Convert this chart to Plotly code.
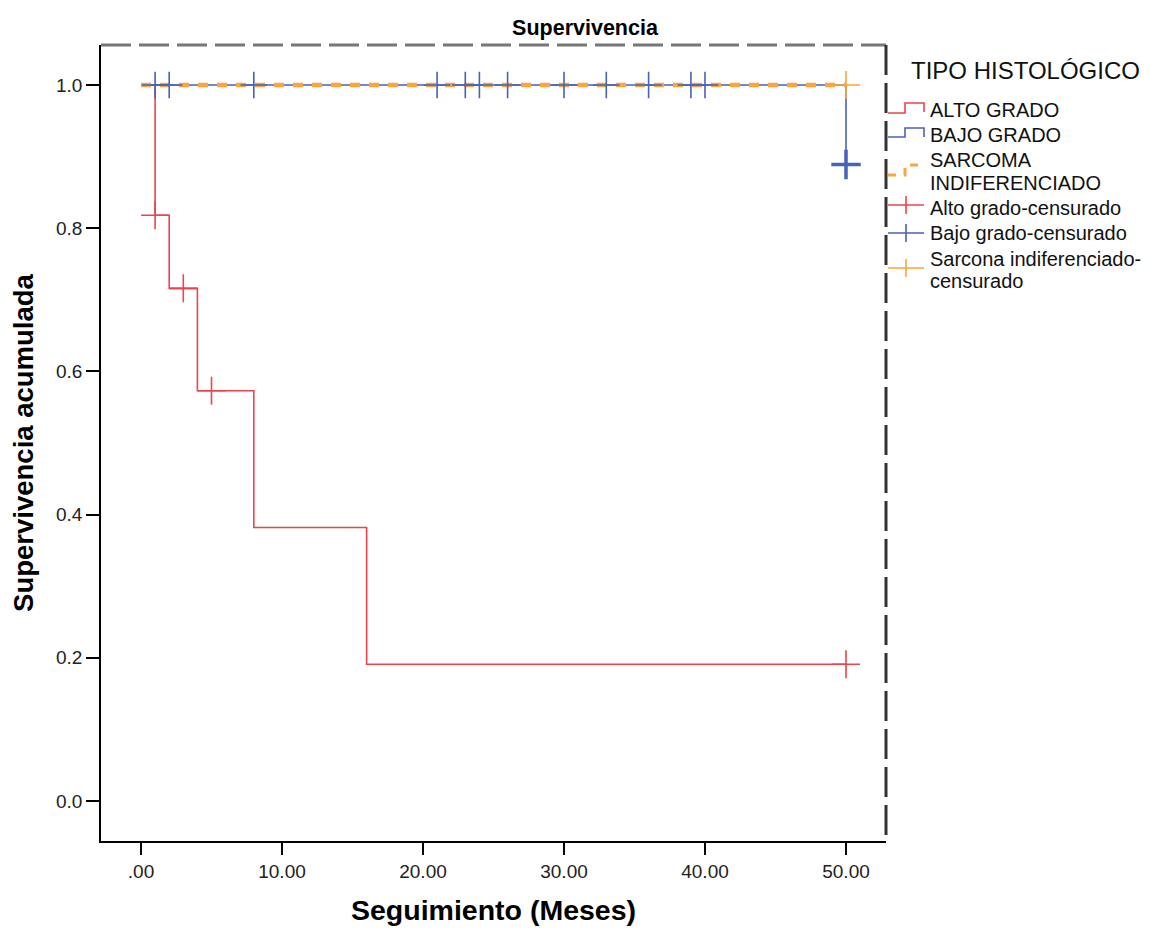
import plotly.graph_objects as go

# Kaplan-Meier step curves (time in months, cumulative survival)
alto_t = [0, 1, 2, 4, 8, 16, 50]
alto_s = [1.0, 0.818, 0.716, 0.573, 0.382, 0.191, 0.191]
alto_cens_t = [1, 3, 5, 50]
alto_cens_s = [0.818, 0.716, 0.573, 0.191]

bajo_t = [0, 50, 50]
bajo_s = [1.0, 1.0, 0.889]
bajo_cens_t = [1, 2, 8, 21, 23, 24, 26, 30, 33, 36, 39, 40]
bajo_cens_s = [1.0] * 12
bajo_last_t = [50]
bajo_last_s = [0.889]

sarc_t = [0, 50]
sarc_s = [1.0, 1.0]
sarc_cens_t = [50]
sarc_cens_s = [1.0]

x_ticks = [0, 10, 20, 30, 40, 50]
x_ticklabels = [".00", "10.00", "20.00", "30.00", "40.00", "50.00"]
y_ticks = [0, 0.2, 0.4, 0.6, 0.8, 1.0]
y_ticklabels = ["0.0", "0.2", "0.4", "0.6", "0.8", "1.0"]

legend_title = "TIPO HISTOLÓGICO"
legend_labels = ["ALTO GRADO", "BAJO GRADO", "SARCOMA<br>INDIFERENCIADO",
                 "Alto grado-censurado", "Bajo grado-censurado",
                 "Sarcona indiferenciado-<br>censurado"]

RED = "#f0424d"
BLUE = "#4861bb"
ORANGE = "#fba53a"
FONT = "Liberation Sans, Arial, sans-serif"

# page geometry (browser body has an 8px margin)
OFF = 8
PL, PR, PT, PB = 101, 886, 45, 841
W, H = 1157 - OFF, 934 - OFF


def px(xp):
    return (xp - PL) / (PR - PL)


def py(yp):
    return (PB - yp) / (PB - PT)


fig = go.Figure()
fig.add_trace(go.Scatter(x=alto_t, y=alto_s, mode="lines", line=dict(color=RED, width=1.6, shape="hv"),
                         name=legend_labels[0], showlegend=False))
fig.add_trace(go.Scatter(x=bajo_t, y=bajo_s, mode="lines", line=dict(color=BLUE, width=1.6, shape="hv"),
                         name=legend_labels[1], showlegend=False))
fig.add_trace(go.Scatter(x=sarc_t, y=sarc_s, mode="lines",
                         line=dict(color=ORANGE, width=4.5, dash="10px,9px"),
                         name=legend_labels[2], showlegend=False))
fig.add_trace(go.Scatter(x=alto_cens_t, y=alto_cens_s, mode="markers",
                         marker=dict(symbol="cross-thin", size=20, line=dict(color=RED, width=1.6)),
                         name=legend_labels[3], showlegend=False))
fig.add_trace(go.Scatter(x=bajo_cens_t, y=bajo_cens_s, mode="markers",
                         marker=dict(symbol="cross-thin", size=19, line=dict(color=BLUE, width=1.6)),
                         name=legend_labels[4], showlegend=False))
fig.add_trace(go.Scatter(x=bajo_last_t, y=bajo_last_s, mode="markers",
                         marker=dict(symbol="cross-thin", size=21, line=dict(color=BLUE, width=3.5)),
                         name=legend_labels[4], showlegend=False))
fig.add_trace(go.Scatter(x=sarc_cens_t, y=sarc_cens_s, mode="markers",
                         marker=dict(symbol="cross-thin", size=20, line=dict(color=ORANGE, width=1.6)),
                         name=legend_labels[5], showlegend=False))

fig.update_layout(
    width=W, height=H,
    margin=dict(l=PL - OFF, r=1157 - PR, t=PT - OFF, b=934 - PB, autoexpand=False),
    paper_bgcolor="white", plot_bgcolor="white",
    font=dict(family=FONT, color="black"),
    title=dict(text="<b>Supervivencia</b>", x=(585 - OFF) / W, xanchor="center", xref="container",
               y=1 - (27 - OFF) / H, yanchor="middle", yref="container", font=dict(size=21.5, family=FONT)),
    showlegend=False,
)
fig.update_xaxes(range=[(PL - 141) / 14.1, (PR - 141) / 14.1], tickvals=x_ticks, ticktext=x_ticklabels,
                 showgrid=False, zeroline=False, showline=True, linecolor="black", linewidth=1.5,
                 ticks="outside", ticklen=12, tickwidth=1.5, tickcolor="black",
                 tickfont=dict(size=19, family=FONT, color="#222"),
                 title=dict(text="<b>Seguimiento (Meses)</b>", font=dict(size=28.5, family=FONT), standoff=20))
fig.update_yaxes(range=[(801 - PB) / 716, (801 - PT) / 716], tickvals=y_ticks, ticktext=y_ticklabels,
                 showgrid=False, zeroline=False, showline=True, linecolor="black", linewidth=1.5,
                 ticks="outside", ticklen=13, tickwidth=1.5, tickcolor="black",
                 tickfont=dict(size=19, family=FONT, color="#222"),
                 title=dict(text="<b>Supervivencia acumulada</b>", font=dict(size=27.5, family=FONT), standoff=15))

# dashed frame on top and right
fig.add_shape(type="line", xref="paper", yref="paper", x0=0, x1=1, y0=1, y1=1,
              line=dict(color="#777", width=3, dash="30px,8px"))
fig.add_shape(type="line", xref="paper", yref="paper", x0=1, x1=1, y0=1, y1=0,
              line=dict(color="#333", width=3, dash="30px,8px"))


def path(points):
    return "M " + " L ".join(f"{px(a):.5f},{py(b):.5f}" for a, b in points)


def icon(points, color, width=1.6, dash="solid"):
    fig.add_shape(type="path", xref="paper", yref="paper", path=path(points),
                  line=dict(color=color, width=width, dash=dash))


# legend icons
icon([(888, 113), (905, 113), (905, 103), (924, 103), (924, 112)], RED)
icon([(888, 137), (905, 137), (905, 128), (924, 128), (924, 137)], BLUE)
icon([(888, 175), (905, 175), (905, 165), (924, 165)], ORANGE, width=3, dash="8px,8px")
for yy, col in [(205, RED), (233, BLUE), (268, ORANGE)]:
    icon([(888, yy), (924, yy)], col)
    icon([(906, yy - 9), (906, yy + 9)], col)

fig.add_annotation(x=px(909), y=py(70), xref="paper", yref="paper", text=legend_title,
                   showarrow=False, xanchor="left", yanchor="middle",
                   font=dict(size=24, family=FONT, color="#111"))
label_pos = [(110,), (135,), (160, 183), (208,), (233,), (259, 281)]
for lab, ys in zip(legend_labels, label_pos):
    lines = lab.split("<br>")
    for ln, yy in zip(lines, ys):
        fig.add_annotation(x=px(928), y=py(yy), xref="paper", yref="paper", text=ln,
                           showarrow=False, xanchor="left", yanchor="middle",
                           font=dict(size=20, family=FONT, color="#111"))

fig.write_html("out.html")
